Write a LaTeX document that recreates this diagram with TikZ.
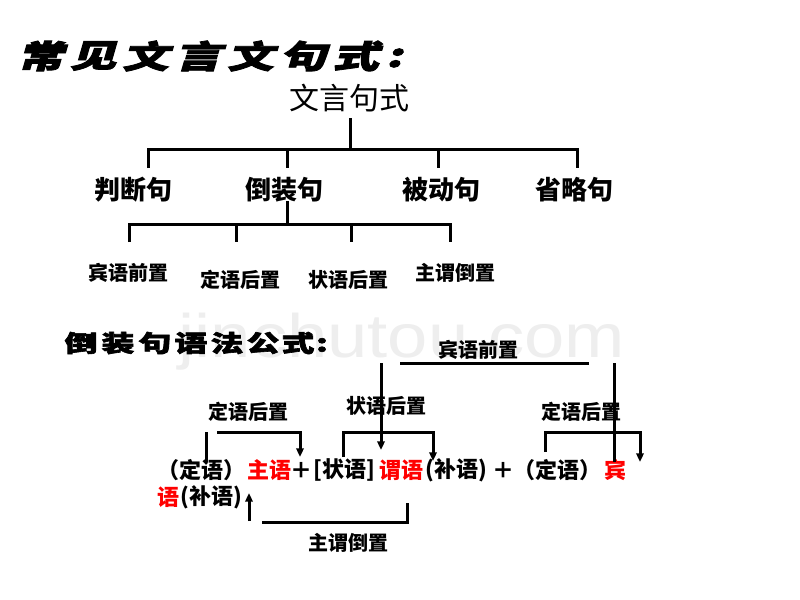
\documentclass[tikz,border=0pt]{standalone}
\usepackage{fontspec}
\newfontfamily\cjk{Noto Sans CJK SC}
\newfontfamily\cjkt{Noto Sans CJK SC}[FakeSlant=0.2,FakeBold=2.5]
\newfontfamily\cjkh{Noto Sans CJK SC}[FakeBold=2.5]
\newfontfamily\wmfont{Liberation Sans}
\usetikzlibrary{arrows.meta}
\newcommand\fsz[1]{\fontsize{#1}{#1}\selectfont}
\definecolor{wmgray}{HTML}{EEEEEE}
\definecolor{tred}{HTML}{FF0000}
\tikzset{
  tline/.style={line width=2.25pt},
  arr/.style={tline,-{Triangle[length=6.5pt,width=5.5pt]}},
  ttl/.style={inner sep=0,font=\cjkt\bfseries\fsz{24}},
  ttl2/.style={inner sep=0,font=\cjkh\bfseries\fsz{17.5}},
  rootlbl/.style={inner sep=0,font=\cjk\fsz{22.5}},
  lab1/.style={inner sep=0,font=\cjk\bfseries\fsz{19.5}},
  lab2/.style={inner sep=0,font=\cjk\bfseries\fsz{15}},
  frm/.style={inner sep=0,anchor=west,font=\cjk\bfseries\fsz{16.5}},
  frmred/.style={frm,text=tred},
}
\begin{document}
\begin{tikzpicture}[x=0.75pt,y=-0.75pt]
\fill[white] (0,0) rectangle (800,600);
\useasboundingbox (0,0) rectangle (800,600);
% watermark
\node[inner sep=0,text=wmgray,font=\wmfont\fsz{46}] (wm) at (402,342) {\scalebox{1.18}[1]{jinchutou.com}};
% main title
\node[ttl] (t1) at (40.5,56) {\scalebox{1.45}[1]{常}};
\node[ttl] (t2) at (93,56) {\scalebox{1.45}[1]{见}};
\node[ttl] (t3) at (145.5,56) {\scalebox{1.45}[1]{文}};
\node[ttl] (t4) at (198,56) {\scalebox{1.45}[1]{言}};
\node[ttl] (t5) at (250.5,56) {\scalebox{1.45}[1]{文}};
\node[ttl] (t6) at (303,56) {\scalebox{1.45}[1]{句}};
\node[ttl] (t7) at (355.5,56) {\scalebox{1.45}[1]{式}};
\node[ttl] (t8) at (394,58) {\scalebox{1.45}[1]{:}};
% tree
\node[rootlbl] (root) at (349,98) {文言句式};
\coordinate (rb) at (350,118);
\coordinate (rj) at (350,149);
\coordinate (h1a) at (148,149); \coordinate (h1b) at (287,149);
\coordinate (h1c) at (438,149); \coordinate (h1d) at (577,149);
\coordinate (d1a) at (148,168); \coordinate (d1b) at (287,168);
\coordinate (d1c) at (438,168); \coordinate (d1d) at (577,168);
\draw[tline] (rb) -- (rj);
\draw[tline] (d1a) -- (h1a) -- (h1d) -- (d1d);
\draw[tline] (h1b) -- (d1b);
\draw[tline] (h1c) -- (d1c);
\node[lab1] (pd) at (133,190) {判断句};
\node[lab1] (dz) at (284,190) {倒装句};
\node[lab1] (bd) at (441,190) {被动句};
\node[lab1] (sl) at (574,190) {省略句};
\coordinate (dzb) at (287,201);
\coordinate (h2j) at (287,224);
\coordinate (h2a) at (129,224); \coordinate (h2b) at (236,224);
\coordinate (h2c) at (351,224); \coordinate (h2d) at (450,224);
\coordinate (d2a) at (129,242); \coordinate (d2b) at (236,242);
\coordinate (d2c) at (351,242); \coordinate (d2d) at (450,242);
\draw[tline] (dzb) -- (h2j);
\draw[tline] (d2a) -- (h2a) -- (h2d) -- (d2d);
\draw[tline] (h2b) -- (d2b);
\draw[tline] (h2c) -- (d2c);
\node[lab2] (s1) at (128,273) {宾语前置};
\node[lab2] (s2) at (240,280) {定语后置};
\node[lab2] (s3) at (348,280) {状语后置};
\node[lab2] (s4) at (455,273) {主谓倒置};
% second title
\node[ttl2] (u1) at (81,343) {\scalebox{1.4}[1]{倒}};
\node[ttl2] (u2) at (118,343) {\scalebox{1.4}[1]{装}};
\node[ttl2] (u3) at (155,343) {\scalebox{1.4}[1]{句}};
\node[ttl2] (u4) at (191,343) {\scalebox{1.4}[1]{语}};
\node[ttl2] (u5) at (227,343) {\scalebox{1.4}[1]{法}};
\node[ttl2] (u6) at (263,343) {\scalebox{1.4}[1]{公}};
\node[ttl2] (u7) at (298,343) {\scalebox{1.4}[1]{式}};
\node[ttl2] (u8) at (322,345) {\scalebox{1.4}[1]{:}};
% formula labels
\node[lab2] (fl1) at (478,350) {宾语前置};
\node[lab2] (fl2) at (386,406) {状语后置};
\node[lab2] (fl3) at (248,412) {定语后置};
\node[lab2] (fl4) at (581,412) {定语后置};
\node[lab2] (fl5) at (348,543) {主谓倒置};
% formula text
\node[frm] (a1) at (157,470) {（定语）};
\node[frmred] (a2) at (247,470) {主语};
\node[frm] (a3) at (290,470) {＋};
\node[frm] (a4) at (313,470) {[状语]};
\node[frmred] (a5) at (379,470) {谓语};
\node[frm] (a6) at (425,470) {(补语)};
\node[frm] (a7) at (492,470) {＋};
\node[frm] (a8) at (513,470) {（定语）};
\node[frmred] (a9) at (604,470) {宾};
\node[frmred] (b1) at (157,497) {语};
\node[frm] (b2) at (180,497) {(补语)};
% connectors
\coordinate (q1) at (381,363); \coordinate (q2) at (381,450);
\coordinate (q3) at (400,363); \coordinate (q4) at (589,363);
\coordinate (q5) at (614,363); \coordinate (q6) at (614,462);
\draw[arr] (q1) -- (q2);
\draw[tline] (q3) -- (q4);
\draw[tline] (q5) -- (q6);
\coordinate (L1) at (206,462); \coordinate (L2) at (206,432);
\coordinate (L3) at (217,432); \coordinate (L4) at (300,432);
\coordinate (L5) at (300,457);
\draw[tline] (L1) -- (L2);
\draw[arr] (L3) -- (L4) -- (L5);
\coordinate (M1) at (343,457); \coordinate (M2) at (343,432);
\coordinate (M3) at (433,432); \coordinate (M4) at (433,461);
\draw[arr] (M1) -- (M2) -- (M3) -- (M4);
\coordinate (R1) at (545,452); \coordinate (R2) at (545,432);
\coordinate (R3) at (640,432); \coordinate (R4) at (640,462);
\draw[arr] (R1) -- (R2) -- (R3) -- (R4);
\coordinate (B1) at (249,521); \coordinate (B2) at (249,493);
\draw[arr] (B1) -- (B2);
\coordinate (B3) at (262,522); \coordinate (B4) at (407,522);
\coordinate (B5) at (407,503);
\draw[tline] (B3) -- (B4) -- (B5);
\end{tikzpicture}
\end{document}
